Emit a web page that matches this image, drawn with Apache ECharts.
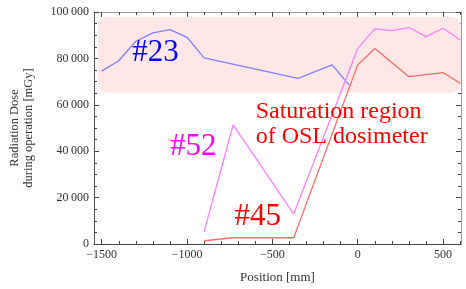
<!DOCTYPE html>
<html>
<head>
<meta charset="utf-8">
<script src="https://cdn.jsdelivr.net/npm/echarts@6/dist/echarts.min.js"></script>
<style>
  html, body { margin: 0; padding: 0; background: #fff; }
  #chart { width: 466px; height: 289px; }
</style>
</head>
<body>
<div id="chart"></div>
<script>
// dosimeter positions [mm] and dose [mGy]
const pos23 = [-1500, -1400, -1300, -1200, -1100, -1000, -900, -350, -150, -50];
const dose23 = [74500, 79000, 87400, 91000, 92400, 89100, 80200, 71400, 77200, 68500];

const pos52 = [-900, -730, -375, 0, 100, 200, 300, 400, 500, 600];
const dose52 = [5300, 51300, 12900, 84300, 92700, 92000, 93300, 89400, 93000, 87900];

const pos45 = [-900, -730, -375, 0, 100, 300, 500, 600];
const dose45 = [1400, 2700, 2700, 77200, 84300, 72100, 73900, 69300];

const xTicks = [-1500, -1000, -500, 0, 500];
const yTicks = [0, 20000, 40000, 60000, 80000, 100000];

// saturation band: [xFrom, yFrom, xTo, yTo]
const satRegion = [-1521, 65200, 605, 98000];

const labelTexts = ['#23', '#52', '#45', 'Saturation region\nof OSL dosimeter'];
const labelAnchors = [[-1184, 82300], [-963, 41800], [-585, 11600], [-598, 51500]];

const xMin = -1545, xMax = 605;
const xMinor = [];
for (let v = -1500; v <= 600; v += 100) if (v % 500 !== 0) xMinor.push(v);

const serif = 'Liberation Serif';
const fmtNum = v => {
  let s = String(Math.abs(v));
  if (s.length > 4) s = s.replace(/\B(?=(\d{3})+(?!\d))/g, '\u2009');
  return (v < 0 ? '\u2212' : '') + s;
};

const zip = (xs, ys) => xs.map((x, i) => [x, ys[i]]);

function xAxisDef(position, values, len, showLine, showLabel, lineColor) {
  return {
    type: 'value', position: position, min: xMin, max: xMax,
    splitLine: { show: false },
    axisLine: { show: showLine, onZero: false, lineStyle: { color: lineColor, width: 1 } },
    axisTick: { show: true, inside: true, length: len, customValues: values, lineStyle: { color: '#444' } },
    axisLabel: { show: showLabel, customValues: values, margin: 5, color: '#333',
      fontFamily: serif, fontSize: 12, formatter: fmtNum },
  };
}

const labelColors = ['#0000ff', '#ff00ff', '#ff0000', '#ff0000'];
const labelSizes = [31, 31, 31, 24];

const option = {
  animation: false,
  grid: { left: 91, right: 5, top: 12, bottom: 45 },
  xAxis: [
    Object.assign(xAxisDef('bottom', xTicks, 5, true, true, '#444'), {
      name: 'Position [mm]', nameLocation: 'middle', nameGap: 27,
      nameTextStyle: { fontFamily: serif, fontSize: 13, color: '#333' },
    }),
    xAxisDef('bottom', xMinor, 3, false, false, '#444'),
    xAxisDef('top', xTicks, 5, true, false, '#999'),
    xAxisDef('top', xMinor, 3, false, false, '#999'),
  ],
  yAxis: [
    {
      type: 'value', position: 'left', min: 0, max: 100000, interval: 20000,
      name: 'Radiation Dose\nduring operation [mGy]', nameLocation: 'middle', nameGap: 58,
      nameTextStyle: { fontFamily: serif, fontSize: 12.5, color: '#333', lineHeight: 14 },
      splitLine: { show: false },
      axisLine: { show: true, onZero: false, lineStyle: { color: '#555' } },
      axisTick: { inside: true, length: 5, lineStyle: { color: '#444' } },
      minorTick: { show: true, splitNumber: 4, length: 3, lineStyle: { color: '#444' } },
      axisLabel: { margin: 5, color: '#333', fontFamily: serif, fontSize: 12,
        customValues: yTicks, formatter: fmtNum },
    },
    {
      type: 'value', position: 'right', min: 0, max: 100000, interval: 20000,
      splitLine: { show: false },
      axisLine: { show: true, onZero: false, lineStyle: { color: '#999' } },
      axisTick: { inside: true, length: 5, lineStyle: { color: '#444' } },
      minorTick: { show: true, splitNumber: 4, length: 3, lineStyle: { color: '#444' } },
      axisLabel: { show: false },
    },
  ],
  series: [
    {
      type: 'custom', name: 'saturation', z: 1, clip: false, silent: true,
      data: [satRegion],
      renderItem: (params, api) => {
        const a = api.coord([api.value(0), api.value(3)]);
        const b = api.coord([api.value(2), api.value(1)]);
        return { type: 'rect', shape: { x: a[0], y: a[1], width: b[0] - a[0], height: b[1] - a[1], r: 10 },
          style: { fill: '#fde7e7' } };
      },
    },
    { type: 'line', name: '#23', z: 3, data: zip(pos23, dose23), showSymbol: false,
      lineStyle: { color: '#8080ff', width: 1.3 } },
    { type: 'line', name: '#52', z: 3, data: zip(pos52, dose52), showSymbol: false,
      lineStyle: { color: '#ff80ff', width: 1.3 } },
    { type: 'line', name: '#45', z: 3, data: zip(pos45, dose45), showSymbol: false,
      lineStyle: { color: '#ff6a6a', width: 1.3 } },
    {
      type: 'custom', name: 'labels', z: 4, clip: false, silent: true,
      data: labelAnchors,
      renderItem: (params, api) => {
        const p = api.coord([api.value(0), api.value(1)]);
        const i = params.dataIndex;
        return { type: 'text', x: p[0], y: p[1],
          style: { text: labelTexts[i], fill: labelColors[i], font: labelSizes[i] + 'px "' + serif + '"',
            align: i === 3 ? 'left' : 'center', verticalAlign: 'middle', lineHeight: 25 } };
      },
    },
  ],
};

echarts.init(document.getElementById('chart')).setOption(option);
</script>
</body>
</html>
